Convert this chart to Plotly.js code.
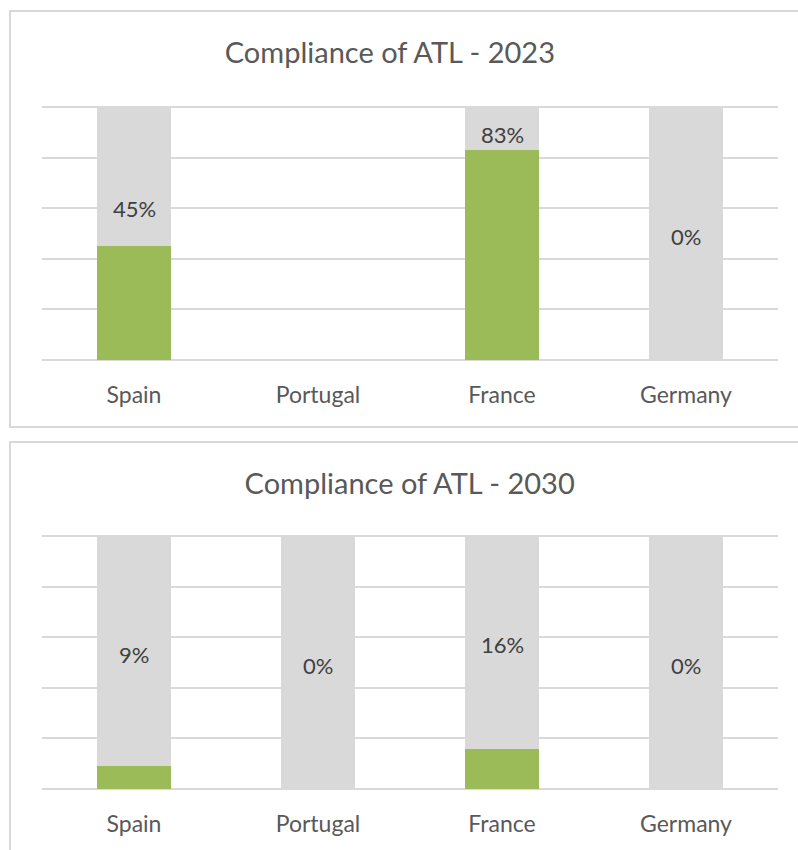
<!DOCTYPE html>
<html>
<head>
<meta charset="utf-8">
<script src="https://cdn.plot.ly/plotly-3.0.1.min.js"></script>
<style>
    html, body { margin: 0; padding: 0; background: #ffffff; overflow: hidden; }
    .panel {
        position: absolute;
        left: 9px;
        width: 795px;
        border: 2px solid #d9d9d9;
        box-sizing: border-box;
        background: #ffffff;
    }
    #chart2023 { top: 10px; height: 418px; }
    #chart2030 { top: 441px; height: 430px; }
</style>
</head>
<body>
<div id="chart2023" class="panel"></div>
<div id="chart2030" class="panel"></div>
<script>
const countries = ["Spain", "Portugal", "France", "Germany"];

// share of compliance, null = no data for that year
const compliance2023 = [0.45, null, 0.83, 0];
const compliance2030 = [0.09, 0, 0.16, 0];

const labels2023 = ["45%", "", "83%", "0%"];
const labels2030 = ["9%", "0%", "16%", "0%"];

// where Excel put the value labels (share of the axis)
const labelAt2023 = [0.6, null, 0.89, 0.49];
const labelAt2030 = [0.53, 0.49, 0.57, 0.49];

const greenColor = "#9bbb59";
const greyColor = "#d9d9d9";
const textColor = "#595959";
const fontFamily = "Lato, 'Open Sans', sans-serif";

function drawChart(divId, title, titleX, values, labels, labelAt, height, topMargin) {
    let remainder = values.map(v => v === null ? null : 1 - v);

    let traces = [
        {
            x: countries, y: values, type: "bar", name: "Compliant",
            marker: { color: greenColor }, hoverinfo: "skip"
        },
        {
            x: countries, y: remainder, type: "bar", name: "Remaining",
            marker: { color: greyColor }, hoverinfo: "skip"
        }
    ];

    let annotations = [];
    for (let i = 0; i < countries.length; i++) {
        if (labelAt[i] === null) continue;
        annotations.push({
            x: countries[i], y: labelAt[i], xref: "x", yref: "y",
            text: labels[i], showarrow: false,
            font: { family: fontFamily, size: 22, color: "#404040" }
        });
    }

    let layout = {
        width: 791,
        height: height,
        barmode: "stack",
        bargap: 0.6,
        showlegend: false,
        paper_bgcolor: "#ffffff",
        plot_bgcolor: "#ffffff",
        margin: { l: 31, r: 24, t: topMargin, b: height - topMargin - 255 },
        title: {
            text: title,
            x: titleX, xanchor: "center",
            y: 1 - 41 / height, yref: "container", yanchor: "middle",
            font: { family: fontFamily, size: 29, color: textColor }
        },
        xaxis: {
            type: "category",
            showgrid: false,
            showline: false,
            zeroline: false,
            ticks: "",
            ticklabelstandoff: 18,
            tickfont: { family: fontFamily, size: 23, color: textColor }
        },
        yaxis: {
            range: [-0.004, 1.004],
            dtick: 0.2,
            showticklabels: false,
            showgrid: true,
            gridcolor: greyColor,
            gridwidth: 2,
            zeroline: true,
            zerolinecolor: greyColor,
            zerolinewidth: 2,
            showline: false,
            fixedrange: true
        },
        annotations: annotations
    };

    Plotly.newPlot(divId, traces, layout, { displayModeBar: false, staticPlot: true });
}

drawChart("chart2023", "Compliance of ATL - 2023", 0.479, compliance2023, labels2023, labelAt2023, 414, 94);
drawChart("chart2030", "Compliance of ATL - 2030", 0.504, compliance2030, labels2030, labelAt2030, 426, 92);
</script>
</body>
</html>
